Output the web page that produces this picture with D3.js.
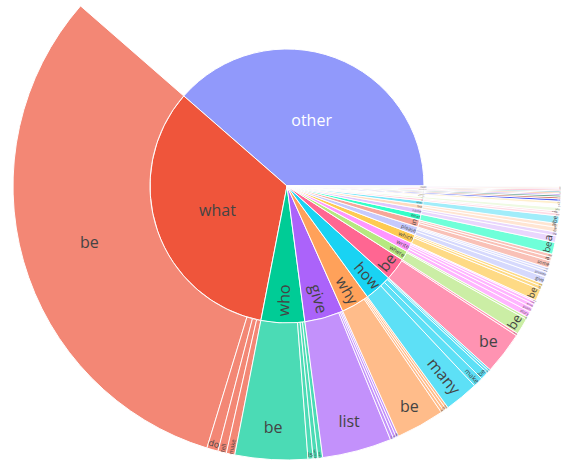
<!DOCTYPE html>
<html>
<head>
<meta charset="utf-8">
<script src="https://cdn.jsdelivr.net/npm/d3@7"></script>
<style>
  body { margin: 0; background: #fff; }
  svg { display: block; }
</style>
</head>
<body>
<div id="chart"></div>
<script>
// First word of each question (inner ring), biggest first
const firstWords = ["other", "what", "who", "give", "why", "how", "be", "where", "write", "which",
  "please", "in", "What", "name", "find", "when", "do", "can", "describe", "explain",
  "create", "generate", "is", "identify", "summarize", "translate", "suggest", "compare",
  "rewrite", "calculate", "tell"];

// "other" has no breakdown, so it is a leaf of its own
const otherCount = 1389;

// Second word (outer ring), one list per first word
const secondWords = [
  [],
  ["be", "do", "tell", "make"],
  ["be", "is", "wrote", "was"],
  ["list", "me", "an", "a"],
  ["be", "do", "is", "does"],
  ["many", "make", "be", "do", "can"],
  ["be", "there"],
  ["be", "do"],
  ["story", "poem", "essay", "code", "song"],
  ["be", "of", "one"],
  ["give", "provide", "write", "tell"],
  ["some", "a", "the"],
  ["be"],
  ["a", "the"],
  ["be", "a"],
  ["be"],
  ["you", "i"],
  ["you"],
  ["the", "a"],
  ["the"],
  ["a"],
  ["a"],
  ["be"],
  ["the"],
  ["the"],
  ["the"],
  ["a"],
  ["the"],
  ["the"],
  ["the"],
  ["me"]
];
const secondCounts = [
  [],
  [1141, 24, 18, 18],
  [154, 11, 10, 10],
  [147, 7, 6, 5],
  [103, 6, 6, 5],
  [72, 21, 17, 5, 4],
  [90, 5],
  [35, 5],
  [12, 10, 8, 6, 3],
  [25, 7, 6],
  [15, 10, 5, 5],
  [15, 8, 7],
  [25],
  [14, 8],
  [10, 8],
  [16],
  [6, 4],
  [8],
  [4, 3],
  [6],
  [5],
  [4],
  [4],
  [3],
  [3],
  [3],
  [3],
  [2],
  [2],
  [2],
  [1]
];

const colorway = ["#636efa", "#EF553B", "#00cc96", "#ab63fa", "#FFA15A",
  "#19d3f3", "#FF6692", "#B6E880", "#FF97FF", "#FECB52"];

const width = 561, height = 461;
const cx = 287, cy = 186, outerR = 274;
const fontSize = 16;
const TEXTPAD = 3;

// colorway extended: same colors 20% lighter, then 20% darker
const colors = colorway.slice();
colorway.forEach(c => { const h = d3.hsl(c); h.l = Math.min(1, h.l + 0.2); colors.push(h.formatHex()); });
colorway.forEach(c => { const h = d3.hsl(c); h.l = Math.max(0, h.l - 0.2); colors.push(h.formatHex()); });

const rootData = {
  name: "",
  children: firstWords.map((w, i) => secondWords[i].length
    ? { name: w, children: secondWords[i].map((s, j) => ({ name: s, value: secondCounts[i][j] })) }
    : { name: w, value: otherCount })
};

const root = d3.hierarchy(rootData)
  .sum(d => d.value || 0)
  .sort((a, b) => b.value - a.value);
d3.partition().size([2 * Math.PI, 3])(root);

const radius = d3.scaleLinear().domain([1, 3]).range([0, outerR]);

const nodes = root.descendants().filter(d => d.depth > 0);
root.children.forEach((c, i) => {
  c.descendants().forEach(d => { d.color = colors[i % colors.length]; });
});
nodes.forEach(d => {
  d.r0 = radius(d.y0);
  d.r1 = radius(d.y1);
});

// angles run counterclockwise from 3 o'clock
const arc = d3.arc()
  .innerRadius(d => d.r0)
  .outerRadius(d => d.r1)
  .startAngle(d => Math.PI / 2 - d.x1)
  .endAngle(d => Math.PI / 2 - d.x0);

const svg = d3.select("#chart").append("svg")
  .attr("width", width)
  .attr("height", height);

svg.append("rect").attr("width", width).attr("height", height).attr("fill", "#fff");

const g = svg.append("g").attr("transform", `translate(${cx},${cy})`);

g.selectAll("path.slice")
  .data(nodes)
  .join("path")
  .attr("class", "slice")
  .attr("d", arc)
  .attr("fill", d => d.color)
  .attr("opacity", d => d.children ? 1 : 0.7)
  .attr("stroke", "#fff")
  .attr("stroke-width", 1);

// label sizing like plotly: horizontal if it fits, else tangential / radial
function calcMaxHalfSize(a, halfAngle, r, ring) {
  const q = a + 1 / (2 * Math.tan(halfAngle));
  return r * Math.min(
    1 / (Math.sqrt(q * q + 0.5) + q),
    ring / (Math.sqrt(a * a + ring / 2) + a)
  );
}
function calcRotate(t) { return (180 / Math.PI * t + 720) % 180 - 90; }
function calcRCenter(a, b) { return Math.cos(b) - a * b; }

function fitLabel(bb, d) {
  const r = d.r1;
  const ring = 1 - d.r0 / d.r1;
  const half = 0.5 * Math.min(d.x1 - d.x0, Math.PI);
  const mid = Math.PI / 2 - (d.x0 + d.x1) / 2;
  const rIns = Math.max(0, Math.min(1 / (1 + 1 / Math.sin(half)), ring / 2));
  const all = [];

  const diag = Math.sqrt(bb.width * bb.width + bb.height * bb.height);
  const hor = { scale: rIns * r * 2 / diag, rCenter: 1 - rIns, rotate: 0 };
  if (hor.scale >= 1) return hor;
  all.push(hor);

  const rp = Math.max(0, r - 2 * TEXTPAD);
  let a = bb.height / bb.width;
  let s = calcMaxHalfSize(a, half, rp, ring);
  all.push({ scale: s * 2 / bb.width, rCenter: calcRCenter(a, s / rp), rotate: calcRotate(mid + Math.PI / 2) });

  a = bb.width / bb.height;
  s = calcMaxHalfSize(a, half, rp, ring);
  all.push({ scale: s * 2 / bb.height, rCenter: calcRCenter(a, s / rp), rotate: calcRotate(mid) });

  let best = all[0], maxScale = 0;
  all.forEach(t => { if (maxScale < t.scale) { maxScale = t.scale; best = t; } });
  return best;
}

function textColor(c) {
  const rgb = d3.rgb(c);
  const brightness = (rgb.r * 299 + rgb.g * 587 + rgb.b * 114) / 1000;
  return brightness < 128 ? "#fff" : "#444";
}

const labels = svg.append("g")
  .selectAll("text")
  .data(nodes)
  .join("text")
  .attr("text-anchor", "middle")
  .attr("font-family", "'Open Sans', verdana, arial, sans-serif")
  .attr("font-size", fontSize)
  .attr("fill", d => textColor(d.color))
  .text(d => d.data.name);

labels.each(function(d) {
  const bb = this.getBBox();
  const t = fitLabel(bb, d);
  // tiny slices still get a (very small) label
  const scale = Math.max(0.1, Math.min(1, t.scale));
  const theta = (d.x0 + d.x1) / 2;
  const R = d.r1 * t.rCenter;
  const tx = cx + R * Math.cos(theta);
  const ty = cy - R * Math.sin(theta);
  const bx = bb.x + bb.width / 2;
  const by = bb.y + bb.height / 2;
  d3.select(this).attr("transform",
    `translate(${tx},${ty}) rotate(${t.rotate}) scale(${scale}) translate(${-bx},${-by})`);
});
</script>
</body>
</html>
